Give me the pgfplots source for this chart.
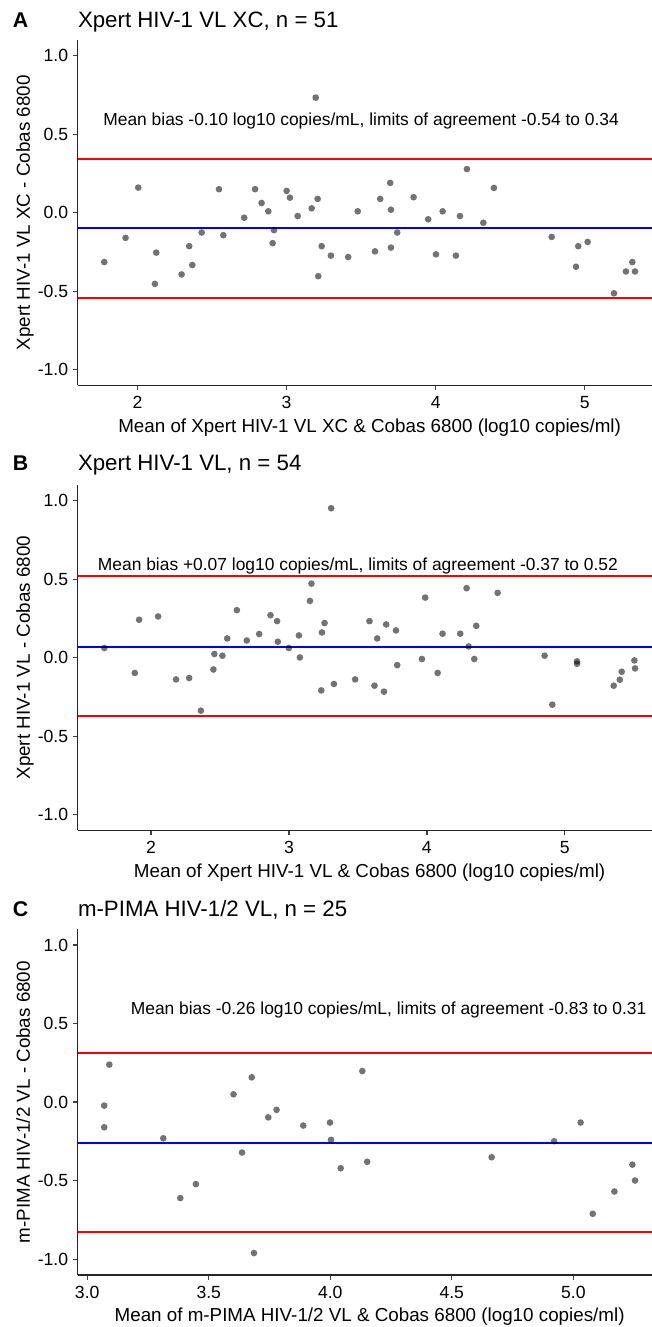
\documentclass[border=0pt]{standalone}
\usepackage{fontspec}
\setmainfont{Liberation Sans}
\usepackage{pgfplots}
\pgfplotsset{compat=1.18}

\pgfplotsset{
  baplot/.style={
    scale only axis,
    width=437.85pt, height=259.1pt,
    axis x line*=bottom, axis y line*=left,
    axis line style={line width=1.1pt, color=black!85, -},
    ymin=-1.1, ymax=1.1,
    ytick={-1,-0.5,0,0.5,1},
    yticklabel style={/pgf/number format/fixed, /pgf/number format/fixed zerofill, /pgf/number format/precision=1},
    /pgf/number format/assume math mode=true,
    tick align=outside,
    major tick length=3.5pt,
    tick style={line width=1pt, color=black!75},
    ticklabel style={font=\fontsize{13.2}{15}\selectfont, color=black},
    xticklabel style={anchor=base, yshift=-14pt, inner sep=0pt},
    yticklabel style={anchor=east, xshift=-3.5pt, inner sep=0pt},
    label style={font=\fontsize{14.1}{16}\selectfont},
    xlabel style={at={(axis description cs:0.5,-0.1352)}, anchor=base},
    ylabel style={at={(axis description cs:-0.0818,0.5)}, anchor=base},
  },
  dots/.style={only marks, mark=*, mark size=2.5pt, color=black,
    mark options={draw opacity=0, line width=0pt, fill=black, fill opacity=0.55}},
  mline/.style={color=blue, line width=1.5pt, no marks},
  lline/.style={color=red, line width=1.5pt, no marks},
}
\tikzset{ann/.style={anchor=base, font=\fontsize{13.05}{15}\selectfont},
  plab/.style={anchor=base west, inner sep=0pt, font=\bfseries\fontsize{16}{18}\selectfont},
  ptit/.style={anchor=base west, inner sep=0pt, font=\fontsize{16.7}{19}\selectfont}}

\begin{document}
\begin{tikzpicture}
\useasboundingbox (0,0) rectangle (489pt,-995.25pt);

% ---------- Panel A ----------
\node[plab] at (9.5pt,-20.5pt) {A};
\node[ptit] at (58.3pt,-20.5pt) {Xpert HIV-1 VL XC, n = 51};
\begin{axis}[baplot, at={(58.3pt,-30pt)}, anchor=north west,
  xmin=1.598, xmax=5.516, xtick={2,3,4,5},
  xlabel={Mean of Xpert HIV-1 VL XC \& Cobas 6800 (log10 copies/ml)},
  ylabel={Xpert HIV-1 VL XC - Cobas 6800}]
\addplot[lline] coordinates {(1.598,0.34) (5.516,0.34)};
\addplot[lline] coordinates {(1.598,-0.54) (5.516,-0.54)};
\addplot[mline] coordinates {(1.598,-0.10) (5.516,-0.10)};
\addplot[dots] coordinates {
(1.776,-0.314) (1.919,-0.160) (2.004,0.160) (2.116,-0.453) (2.125,-0.254)
(2.295,-0.393) (2.346,-0.213) (2.367,-0.333) (2.430,-0.126) (2.546,0.150)
(2.575,-0.143) (2.715,-0.032) (2.788,0.150) (2.832,0.062) (2.877,0.009)
(2.906,-0.194) (2.915,-0.111) (3.000,0.139) (3.022,0.096) (3.074,-0.021)
(3.168,0.028) (3.195,0.733) (3.208,0.088) (3.212,-0.404) (3.235,-0.213)
(3.297,-0.273) (3.413,-0.282) (3.477,0.009) (3.593,-0.246) (3.628,0.088)
(3.695,0.190) (3.700,0.019) (3.700,-0.222) (3.742,-0.126) (3.852,0.099)
(3.950,-0.042) (4.002,-0.265) (4.047,0.009) (4.136,-0.273) (4.163,-0.021)
(4.210,0.278) (4.320,-0.064) (4.391,0.158) (4.779,-0.154) (4.942,-0.344)
(4.957,-0.213) (5.020,-0.186) (5.197,-0.513) (5.277,-0.374) (5.320,-0.314)
(5.338,-0.374)
};
\node[ann] at (axis cs:3.5,0.555) {Mean bias -0.10 log10 copies/mL, limits of agreement -0.54 to 0.34};
\end{axis}

% ---------- Panel B ----------
\node[plab] at (9.5pt,-353pt) {B};
\node[ptit] at (58.3pt,-353pt) {Xpert HIV-1 VL, n = 54};
\begin{axis}[baplot, at={(58.3pt,-363.75pt)}, anchor=north west,
  xmin=1.468, xmax=5.702, xtick={2,3,4,5},
  xlabel={Mean of Xpert HIV-1 VL \& Cobas 6800 (log10 copies/ml)},
  ylabel={Xpert HIV-1 VL - Cobas 6800}]
\addplot[lline] coordinates {(1.468,0.52) (5.702,0.52)};
\addplot[lline] coordinates {(1.468,-0.37) (5.702,-0.37)};
\addplot[mline] coordinates {(1.468,0.07) (5.702,0.07)};
\addplot[dots] coordinates {
(1.661,0.062) (1.882,-0.097) (1.913,0.242) (2.051,0.263) (2.181,-0.138)
(2.276,-0.129) (2.361,-0.337) (2.452,-0.075) (2.459,0.024) (2.517,0.013)
(2.552,0.123) (2.622,0.303) (2.694,0.110) (2.784,0.151) (2.866,0.271)
(2.914,0.233) (2.919,0.102) (2.999,0.062) (3.072,0.142) (3.079,0.002)
(3.152,0.362) (3.163,0.472) (3.234,-0.208) (3.239,0.161) (3.258,0.221)
(3.306,0.952) (3.326,-0.167) (3.480,-0.138) (3.584,0.233) (3.620,-0.178)
(3.640,0.123) (3.689,-0.216) (3.705,0.212) (3.776,0.174) (3.785,-0.047)
(3.964,-0.008) (3.988,0.383) (4.078,-0.097) (4.114,0.153) (4.242,0.153)
(4.288,0.443) (4.303,0.072) (4.344,-0.008) (4.358,0.203) (4.513,0.413)
(4.854,0.013) (4.910,-0.299) (5.089,-0.023) (5.089,-0.038) (5.355,-0.178)
(5.399,-0.140) (5.413,-0.089) (5.505,-0.017) (5.510,-0.068)
};
\node[ann] at (axis cs:3.5,0.555) {Mean bias +0.07 log10 copies/mL, limits of agreement -0.37 to 0.52};
\end{axis}

% ---------- Panel C ----------
\node[plab] at (9.5pt,-687pt) {C};
\node[ptit] at (58.3pt,-687pt) {m-PIMA HIV-1/2 VL, n = 25};
\begin{axis}[baplot, at={(58.3pt,-697.05pt)}, anchor=north west,
  xmin=2.961, xmax=5.363, xtick={3,3.5,4,4.5,5},
  xticklabel style={/pgf/number format/fixed, /pgf/number format/fixed zerofill, /pgf/number format/precision=1},
  xlabel={Mean of m-PIMA HIV-1/2 VL \& Cobas 6800 (log10 copies/ml)},
  ylabel={m-PIMA HIV-1/2 VL - Cobas 6800}]
\addplot[lline] coordinates {(2.961,0.31) (5.363,0.31)};
\addplot[lline] coordinates {(2.961,-0.83) (5.363,-0.83)};
\addplot[mline] coordinates {(2.961,-0.26) (5.363,-0.26)};
\addplot[dots] coordinates {
(3.070,-0.022) (3.070,-0.160) (3.091,0.239) (3.313,-0.230) (3.383,-0.611)
(3.447,-0.522) (3.602,0.050) (3.637,-0.321) (3.677,0.158) (3.686,-0.961)
(3.745,-0.097) (3.779,-0.049) (3.889,-0.149) (3.999,-0.130) (4.003,-0.240)
(4.043,-0.421) (4.132,0.198) (4.152,-0.380) (4.664,-0.351) (4.921,-0.249)
(5.030,-0.130) (5.080,-0.711) (5.169,-0.569) (5.243,-0.398) (5.254,-0.499)
};
\node[ann] at (axis cs:4.24,0.555) {Mean bias -0.26 log10 copies/mL, limits of agreement -0.83 to 0.31};
\end{axis}
\end{tikzpicture}
\end{document}
